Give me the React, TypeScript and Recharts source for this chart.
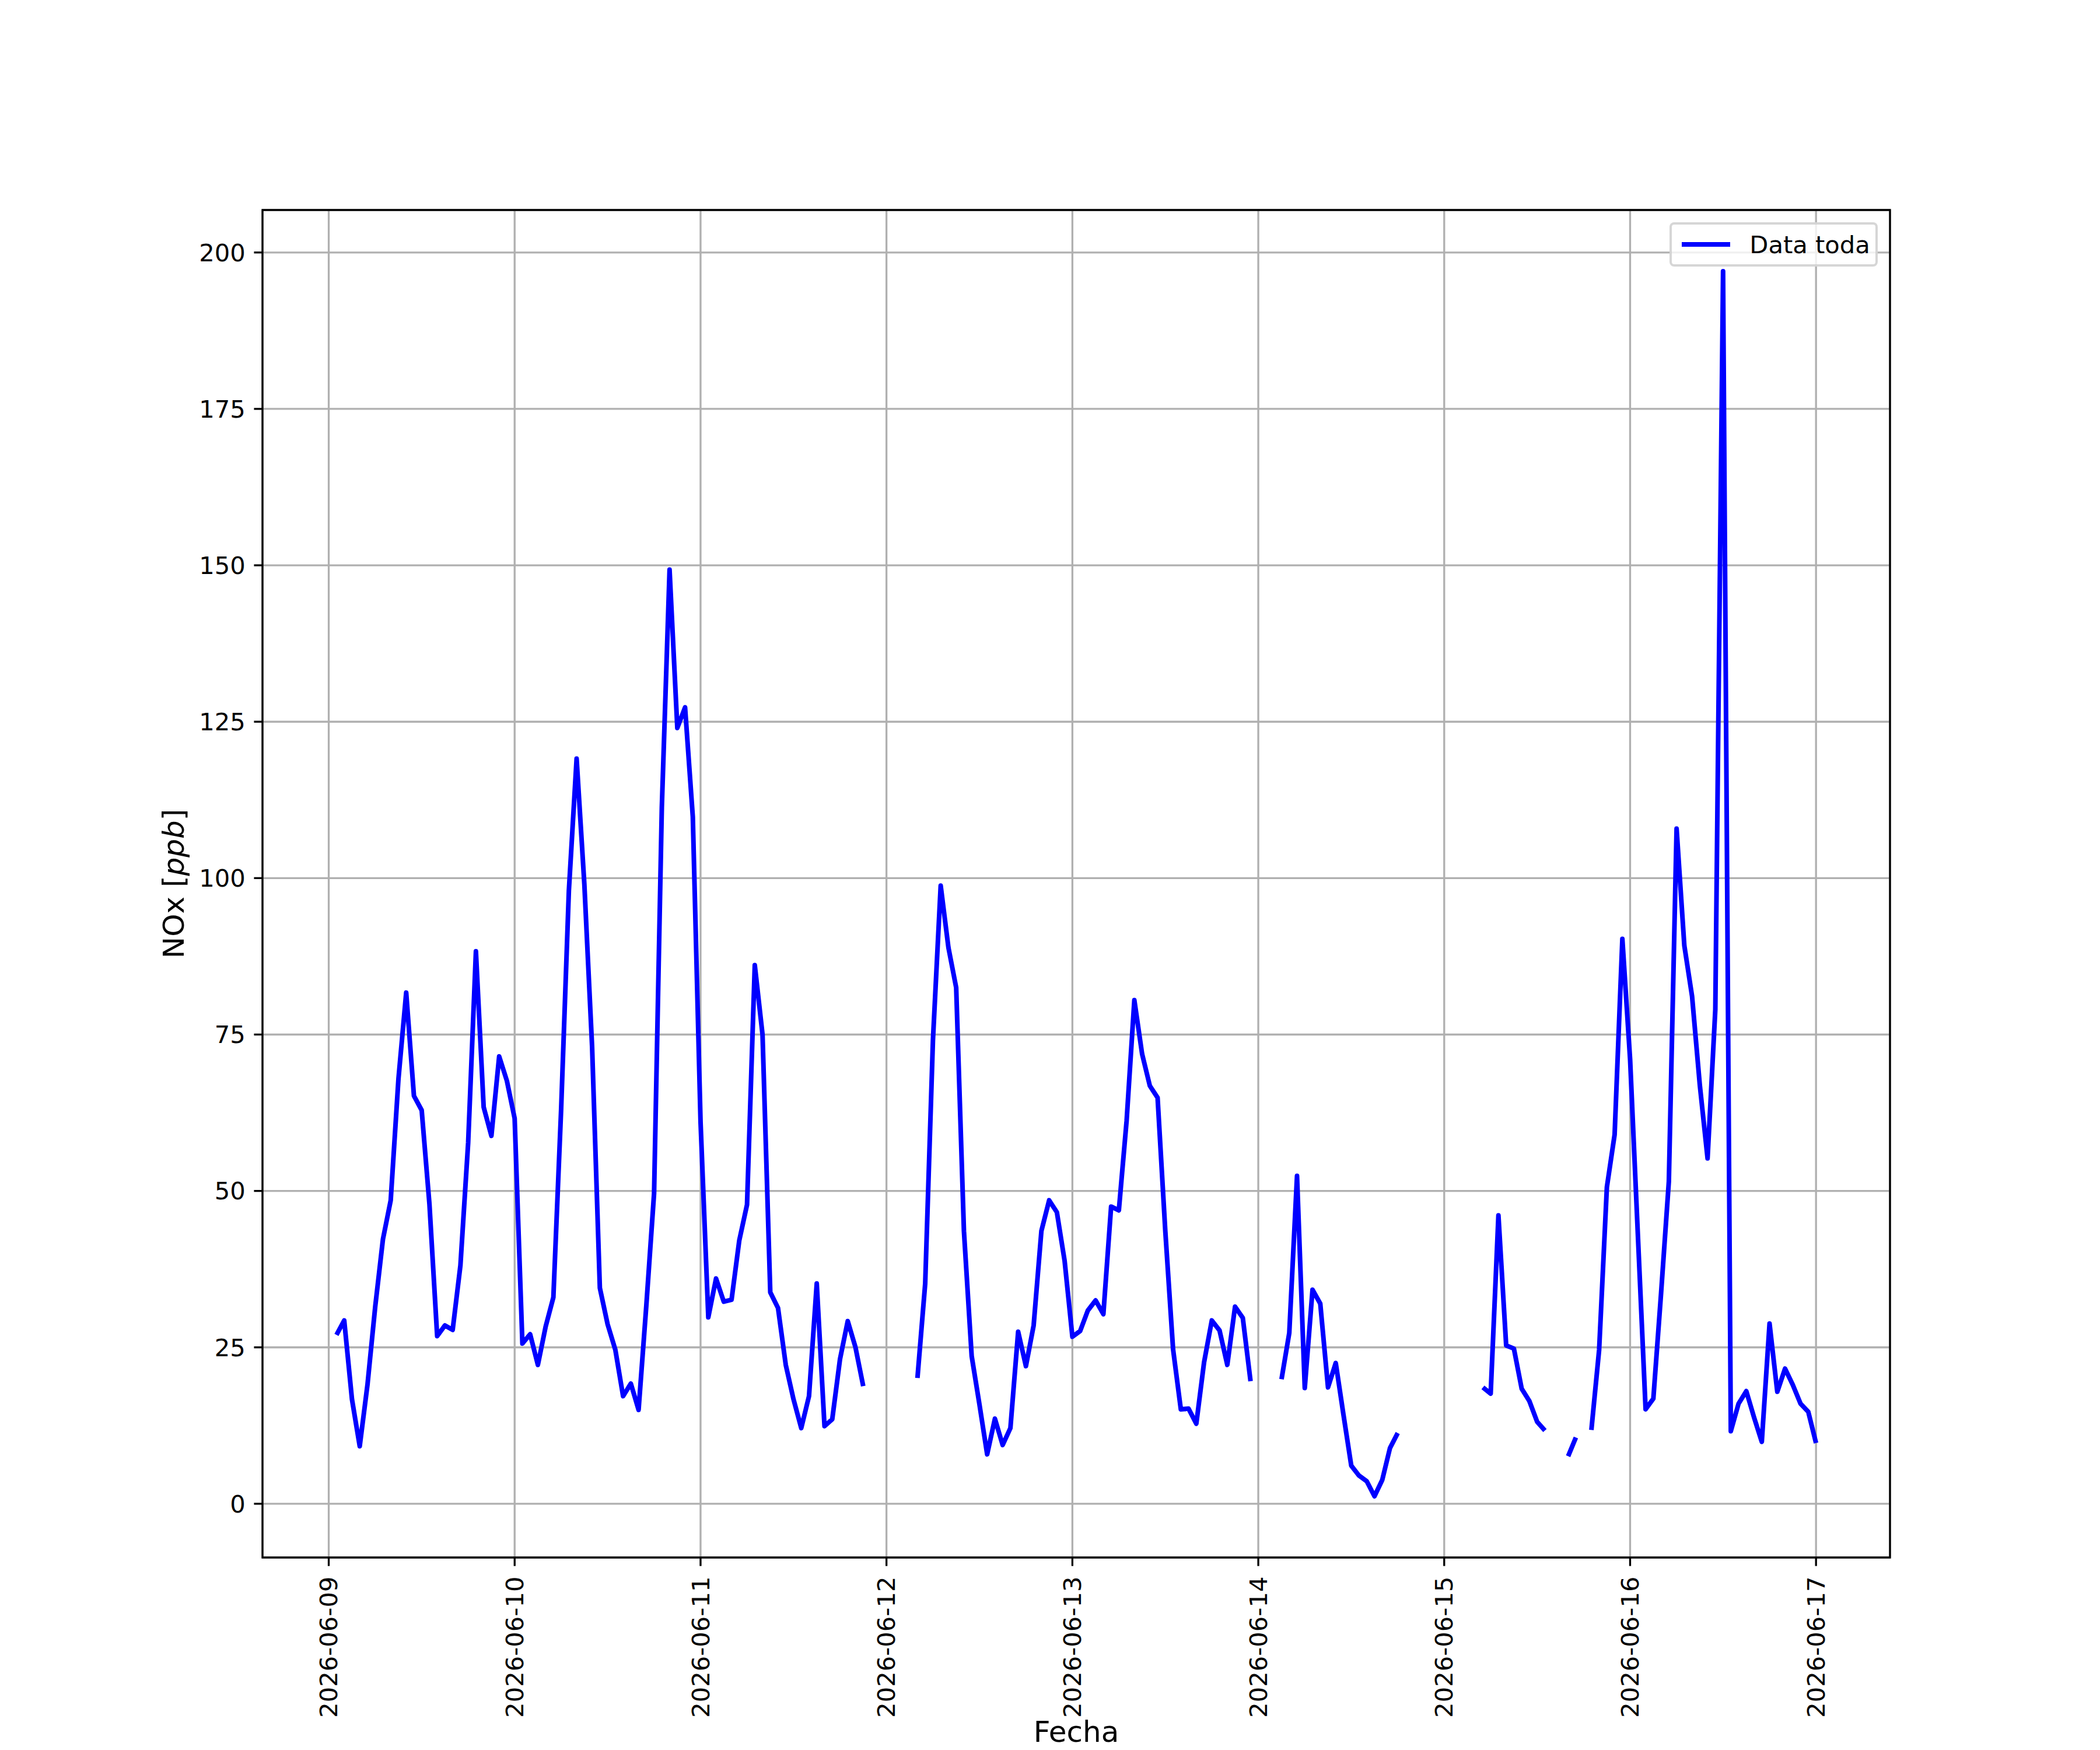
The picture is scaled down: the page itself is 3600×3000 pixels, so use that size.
import React from 'react';
import { LineChart, Line, XAxis, YAxis, CartesianGrid, Legend, ReferenceArea, Label } from 'recharts';

const FONT = '"DejaVu Sans", Verdana, sans-serif';
const PT = 300 / 72; // figure was rendered at 300 dpi

// hourly NOx [ppb], each day runs 01:00 .. 24:00; null = no measurement
const nox0609 = [27.0, 29.3, 16.7, 9.2, 19.0, 31.5, 42.3, 48.5, 67.9, 81.7, 65.2, 62.9, 47.9, 26.8, 28.5, 27.8, 38.1, 57.7, 88.3, 63.4, 58.8, 71.5, 67.6, 61.6];
const nox0610 = [25.6, 27.1, 22.2, 28.3, 33.0, 63.0, 98.0, 119.1, 99.0, 73.0, 34.5, 28.7, 24.6, 17.2, 19.2, 15.0, 31.7, 49.6, 111.3, 149.3, 124.0, 127.3, 109.8, 61.0];
const nox0611 = [29.8, 36.0, 32.3, 32.6, 42.1, 47.8, 86.1, 75.0, 33.8, 31.3, 22.2, 16.7, 12.1, 17.2, 35.2, 12.4, 13.5, 23.1, 29.2, 25.0, 18.8, null, null, null];
const nox0612 = [null, null, null, 20.1, 35.2, 74.1, 98.8, 88.9, 82.5, 43.6, 23.6, 15.9, 7.9, 13.6, 9.4, 12.1, 27.5, 22.0, 28.5, 43.6, 48.5, 46.6, 38.8, 26.7];
const nox0613 = [27.6, 30.9, 32.5, 30.3, 47.5, 46.9, 61.2, 80.5, 71.9, 66.8, 64.9, 43.5, 24.7, 15.1, 15.2, 12.8, 22.6, 29.3, 27.7, 22.2, 31.5, 29.7, 19.6, null];
const nox0614 = [null, null, 19.9, 27.3, 52.4, 18.5, 34.2, 32.0, 18.6, 22.5, 14.2, 6.1, 4.5, 3.6, 1.2, 3.8, 8.9, 11.3, null, null, null, null, null, null];
const nox0615 = [null, null, null, null, 18.6, 17.6, 46.1, 25.3, 24.8, 18.4, 16.4, 13.1, 11.7, null, null, 7.6, 10.6, null, 11.8, 24.6, 50.6, 59.0, 90.3, 71.0];
const nox0616 = [43.0, 15.1, 16.8, 33.7, 51.5, 107.9, 89.2, 81.1, 66.9, 55.2, 79.0, 197.0, 11.6, 16.0, 18.0, 13.8, 9.9, 28.8, 17.9, 21.6, 19.0, 16.0, 14.7, 9.7];

// x is hours since 2026-06-09 00:00
const dayTicks = [0, 24, 48, 72, 96, 120, 144, 168, 192];
const dayLabels = ['2026-06-09', '2026-06-10', '2026-06-11', '2026-06-12', '2026-06-13', '2026-06-14', '2026-06-15', '2026-06-16', '2026-06-17'];
const yTicks = [0, 25, 50, 75, 100, 125, 150, 175, 200];

const series: (number | null)[] = [...nox0609, ...nox0610, ...nox0611, ...nox0612, ...nox0613, ...nox0614, ...nox0615, ...nox0616];
const data = series.map((v, i) => ({ t: i + 1, v }));

// matplotlib-style autoscale: 5% margin on each side
const pad = (lo: number, hi: number): [number, number] => [lo - (hi - lo) * 0.05, hi + (hi - lo) * 0.05];
const vals = series.filter((v): v is number => v !== null);
const xDomain = pad(data[0].t, data[data.length - 1].t);
const yDomain = pad(Math.min(...vals), Math.max(...vals));

const W = 3600;
const H = 3000;
const Y_AXIS_W = 150;
const X_AXIS_H = 330;
const tickFont = 10 * PT;
const labelFont = 12 * PT;
const thin = 0.8 * PT;

const DateTick = (props: any) => {
  const { x, y, payload } = props;
  return (
    <text x={x} y={y} transform={`rotate(-90, ${x}, ${y})`} textAnchor="end" dy="0.35em" fontFamily={FONT} fontSize={tickFont} fill="#000">
      {dayLabels[dayTicks.indexOf(payload.value)]}
    </text>
  );
};

const YTitle = (props: any) => {
  const vb = props.viewBox;
  const x = vb.x + 15;
  const y = vb.y + vb.height / 2;
  return (
    <text x={x} y={y} transform={`rotate(-90, ${x}, ${y})`} textAnchor="middle" fontFamily={FONT} fontSize={labelFont} fill="#000">
      NOx [<tspan fontStyle="italic">ppb</tspan>]
    </text>
  );
};

const XTitle = (props: any) => {
  const vb = props.viewBox;
  return (
    <text x={vb.x + vb.width / 2} y={vb.y + 316} textAnchor="middle" fontFamily={FONT} fontSize={labelFont} fill="#000">
      Fecha
    </text>
  );
};

const LegendBox = () => (
  <div
    style={{
      boxSizing: 'border-box',
      width: '100%',
      height: '100%',
      background: 'rgba(255,255,255,0.8)',
      border: `${1 * PT}px solid rgba(204,204,204,0.8)`,
      borderRadius: 8,
      display: 'flex',
      alignItems: 'center',
      paddingLeft: 0.4 * tickFont,
      fontFamily: FONT,
      fontSize: tickFont,
      color: '#000',
    }}
  >
    <div style={{ width: 2 * tickFont, height: 8, background: '#0000ff', marginRight: 0.8 * tickFont }} />
    <span>Data toda</span>
  </div>
);

export default function App() {
  return (
    <div style={{ position: 'absolute', left: 0, top: 0, width: W, height: H, background: '#fff' }}>
      <LineChart
        width={W}
        height={H}
        data={data}
        margin={{ top: 360, right: 360, bottom: 0, left: 450 - Y_AXIS_W }}
      >
        <CartesianGrid stroke="#b0b0b0" strokeWidth={thin} />
        <XAxis
          type="number"
          dataKey="t"
          domain={xDomain}
          ticks={dayTicks}
          interval={0}
          allowDataOverflow
          height={X_AXIS_H}
          axisLine={false}
          tickLine={{ stroke: '#000', strokeWidth: thin }}
          tickSize={3.5 * PT}
          tickMargin={18}
          tick={<DateTick />}
        >
          <Label content={<XTitle />} />
        </XAxis>
        <YAxis
          type="number"
          domain={yDomain}
          ticks={yTicks}
          interval={0}
          allowDataOverflow
          width={Y_AXIS_W}
          axisLine={false}
          tickLine={{ stroke: '#000', strokeWidth: thin }}
          tickSize={3.5 * PT}
          tickMargin={3.5 * PT}
          tick={{ fontFamily: FONT, fontSize: tickFont, fill: '#000' }}
        >
          <Label content={<YTitle />} />
        </YAxis>
        <ReferenceArea
          x1={xDomain[0]}
          x2={xDomain[1]}
          y1={yDomain[0]}
          y2={yDomain[1]}
          fill="none"
          fillOpacity={0}
          stroke="#000"
          strokeWidth={thin}
          ifOverflow="visible"
        />
        <Line
          type="linear"
          dataKey="v"
          name="Data toda"
          stroke="#0000ff"
          strokeWidth={8}
          strokeLinejoin="round"
          dot={false}
          activeDot={false}
          connectNulls={false}
          isAnimationActive={false}
        />
        <Legend
          layout="horizontal"
          verticalAlign="middle"
          align="center"
          content={<LegendBox />}
          wrapperStyle={{ left: 2862, top: 381, width: 357, height: 76, right: 'auto', bottom: 'auto' }}
        />
      </LineChart>
    </div>
  );
}
